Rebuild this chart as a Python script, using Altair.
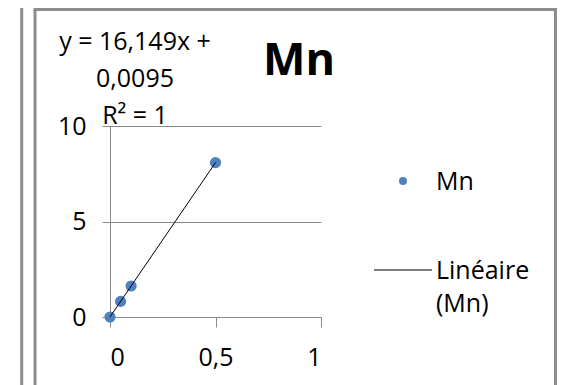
import altair as alt
import pandas as pd

# ---- data ----
x_vals = [0, 0.05, 0.1, 0.5]
y_vals = [0, 0.817, 1.624, 8.084]
series_name = "Mn"
trend_name = "Linéaire (Mn)"
slope_txt = "16,149"
intercept_txt = "0,0095"
r2_txt = "1"
x_ticks = [0, 0.5, 1]
y_ticks = [0, 5, 10]
title_text = "Mn"

df = pd.DataFrame({"x": x_vals, "y": y_vals})

FONT = "Open Sans"
AX = "#898989"
BORDER = "#8c8c8c"
BLUE = "#4F81BD"
FS = 25

xscale = alt.Scale(domain=[0, 1], nice=False, zero=False)
yscale = alt.Scale(domain=[0, 10], nice=False)

x_axis = alt.Axis(values=x_ticks, title=None, grid=False, tickSize=10,
                  labelExpr="replace(format(datum.value, '~g'), '.', ',')",
                  labelFont=FONT, labelFontSize=FS, labelColor="black",
                  labelPadding=18, domainColor=AX, tickColor=AX)
y_axis = alt.Axis(values=y_ticks, title=None, grid=True, gridColor=AX,
                  gridOpacity=1, tickSize=8, labelFont=FONT, labelFontSize=FS,
                  labelColor="black", labelPadding=16, domainColor=AX,
                  tickColor=AX)

points = alt.Chart(df).mark_circle(size=125, color=BLUE, opacity=1).encode(
    x=alt.X("x:Q", scale=xscale, axis=x_axis),
    y=alt.Y("y:Q", scale=yscale, axis=y_axis),
)

trend = alt.Chart(df).transform_regression("x", "y").mark_line(
    color="black", strokeWidth=1
).encode(x=alt.X("x:Q", scale=xscale), y=alt.Y("y:Q", scale=yscale))

dummy = pd.DataFrame({"a": [0]})

eq_text = f"y = {slope_txt}x +\n{intercept_txt}\nR² = {r2_txt}"
equation = alt.Chart(pd.DataFrame({"t": [eq_text]})).mark_text(
    align="center", baseline="alphabetic", lineBreak="\n", lineHeight=37,
    font=FONT, fontSize=FS, color="black"
).encode(x=alt.value(25), y=alt.value(-76), text="t:N")

title = alt.Chart(pd.DataFrame({"t": [title_text]})).mark_text(
    align="center", baseline="alphabetic", font=FONT, fontSize=45,
    fontWeight="bold", color="black"
).encode(x=alt.value(189), y=alt.value(-51), text="t:N")

# legend
leg_dot = alt.Chart(dummy).mark_circle(size=64, color=BLUE, opacity=1).encode(
    x=alt.value(293), y=alt.value(55))
leg_line = alt.Chart(dummy).mark_rule(color="black", strokeWidth=1).encode(
    x=alt.value(264), x2=alt.value(322), y=alt.value(144))
leg_t1 = alt.Chart(pd.DataFrame({"t": [series_name]})).mark_text(
    align="left", baseline="alphabetic", font=FONT, fontSize=FS, color="black"
).encode(x=alt.value(326), y=alt.value(64), text="t:N")
leg_t2 = alt.Chart(pd.DataFrame({"t": [trend_name]})).mark_text(
    align="left", baseline="alphabetic", font=FONT, fontSize=FS, color="black",
    lineBreak=" ", lineHeight=33
).encode(x=alt.value(326), y=alt.value(153), text="t:N")

# chart frames
b_prev = alt.Chart(dummy).mark_rule(color=BORDER, strokeWidth=3).encode(
    x=alt.value(-88.3), y=alt.value(-130), y2=alt.value(300))
b_left = alt.Chart(dummy).mark_rule(color=BORDER, strokeWidth=3).encode(
    x=alt.value(-75), y=alt.value(-116.5), y2=alt.value(300))
b_top = alt.Chart(dummy).mark_rule(color=BORDER, strokeWidth=3).encode(
    x=alt.value(-76.5), x2=alt.value(447), y=alt.value(-116.5))
b_right = alt.Chart(dummy).mark_rule(color=BORDER, strokeWidth=3).encode(
    x=alt.value(445.5), y=alt.value(-116.5), y2=alt.value(300))

chart = alt.layer(
    b_prev, b_left, b_top, b_right,
    points, trend, equation, title, leg_dot, leg_line, leg_t1, leg_t2
).properties(
    width=211, height=191, autosize="none",
    padding={"left": 102, "top": 118, "right": 236, "bottom": 68},
    background="white",
).configure_view(strokeWidth=0)

chart.save("out.html", embed_options={"renderer": "svg", "actions": False})
